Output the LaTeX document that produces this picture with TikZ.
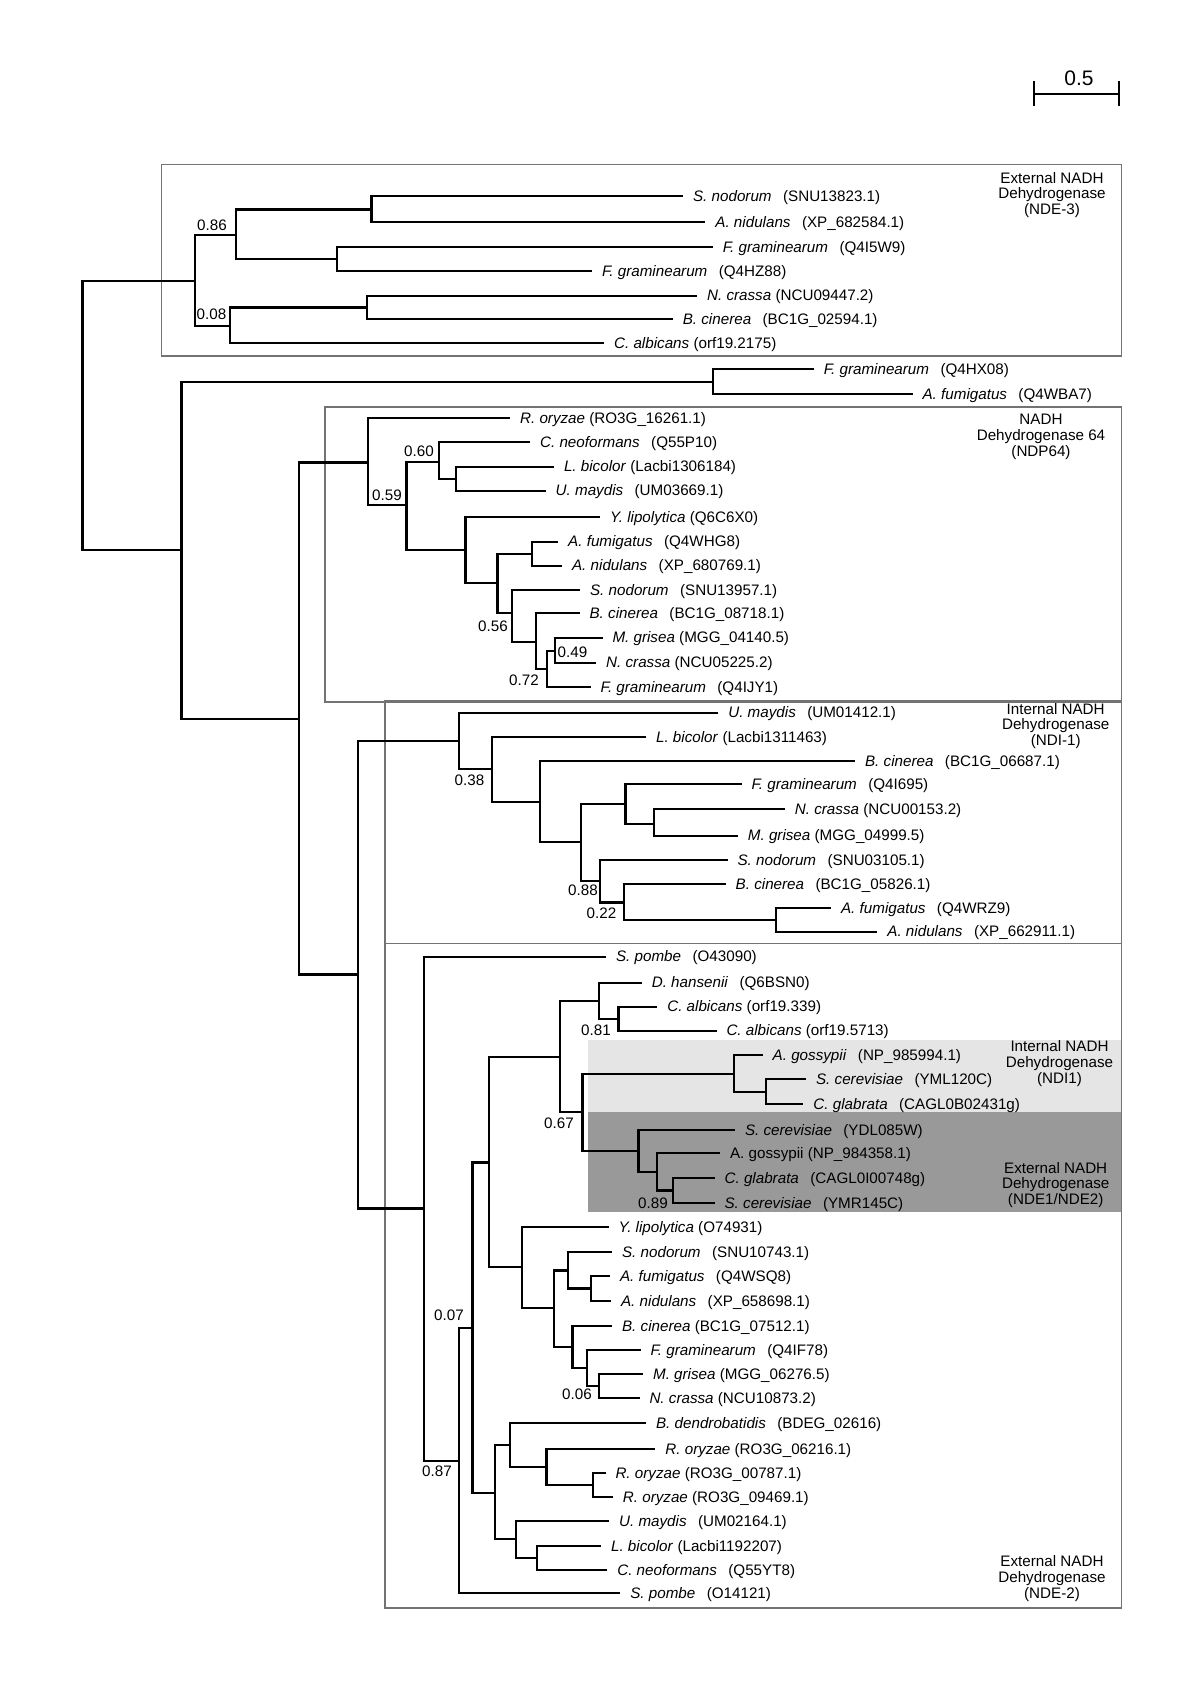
\documentclass[tikz,border=0pt]{standalone}
\usepackage{fontspec}
\setmainfont{Liberation Sans}
\newcommand\fsz{\fontsize{7.6}{7.9}\selectfont}
\newcommand\lbw[2]{\textit{#1}\hspace{0.75em}(#2)}
\newcommand\lbn[2]{\textit{#1}\ (#2)}
\newcommand\tin[4]{\coordinate (#2) at (#3,#4); \draw[br] (#1) |- (#2);}
\newcommand\tleaf[5]{\coordinate (#2) at (#3,#4); \draw[br] (#1) |- (#2) node[lab] (#2t) {#5};}
\begin{document}
\begin{tikzpicture}[x=0.5pt,y=-0.5pt,
  br/.style={line width=1.1pt, black, line cap=rect},
  lab/.style={anchor=mid west, inner xsep=5pt, inner ysep=0pt, font=\fsz},
  bs/.style={font=\fsz, inner sep=0pt},
  grp/.style={draw=black!55, line width=0.8pt},
  ttl/.style={align=center, font=\fsz, inner sep=0pt}]
\useasboundingbox (0,0) rectangle (1200,1698);
% shading
\fill[black!10] (587.6,1040) rectangle (1120.5,1112.3);
\fill[black!40] (587.6,1112.3) rectangle (1120.5,1211.7);
% group boxes
\draw[grp] (161.4,164.3) rectangle (1121.6,355.7);
\draw[grp] (325,406.7) rectangle (1121.6,701.7);
\draw[grp] (385,701) rectangle (1121.6,943.3);
\draw[grp] (385,943.3) rectangle (1121.6,1607.7);
% titles
\node[ttl] (t1) at (1052,195) {External NADH\\Dehydrogenase\\(NDE-3)};
\node[ttl] (t2) at (1041,436.7) {NADH\\Dehydrogenase 64\\(NDP64)};
\node[ttl] (t3) at (1055.7,726) {Internal NADH\\Dehydrogenase\\(NDI-1)};
\node[ttl] (t4) at (1059.5,1063.3) {Internal NADH\\Dehydrogenase\\(NDI1)};
\node[ttl] (t5) at (1055.7,1185) {External NADH\\Dehydrogenase\\(NDE1/NDE2)};
\node[ttl] (t6) at (1052,1578.3) {External NADH\\Dehydrogenase\\(NDE-2)};
% scale bar
\coordinate (sb1) at (1034,94);
\coordinate (sb2) at (1119,94);
\draw[br] (sb1) -- (sb2);
\draw[br] ([yshift=6pt]sb1) -- ([yshift=-5.5pt]sb1);
\draw[br] ([yshift=6pt]sb2) -- ([yshift=-5.5pt]sb2);
\node[font=\fontsize{10.5}{12}\selectfont, inner sep=0pt] (sbl) at (1079,78) {0.5};
% tree
\coordinate (R0) at (82.5,415.5);
\tin{R0}{n3}{195}{281}
\tin{n3}{n086}{235.7}{235}
\tin{n086}{n1}{371.4}{209.5}
\tleaf{n1}{l1}{682}{196.3}{\lbw{S. nodorum}{SNU13823.1}}
\tleaf{n1}{l2}{704.3}{222.3}{\lbw{A. nidulans}{XP\_682584.1}}
\tin{n086}{n2}{336.8}{259}
\tleaf{n2}{l3}{711.7}{247}{\lbw{F. graminearum}{Q4I5W9}}
\tleaf{n2}{l4}{591}{271}{\lbw{F. graminearum}{Q4HZ88}}
\tin{n3}{n008}{230}{326}
\tin{n008}{n4}{367}{307.5}
\tleaf{n4}{l5}{696}{295.7}{\lbn{N. crassa}{NCU09447.2}}
\tleaf{n4}{l6}{671.7}{319.3}{\lbw{B. cinerea}{BC1G\_02594.1}}
\tleaf{n008}{l7}{603}{343}{\lbn{C. albicans}{orf19.2175}}
\tin{R0}{nA}{181.4}{550}
\tin{nA}{nHX}{712.8}{381.8}
\tleaf{nHX}{l8}{812.7}{369.3}{\lbw{F. graminearum}{Q4HX08}}
\tleaf{nHX}{l9}{911.5}{394.3}{\lbw{A. fumigatus}{Q4WBA7}}
\tin{nA}{nB}{298.6}{719}
\tin{nB}{nC}{367.9}{462.5}
\tleaf{nC}{l10}{509}{418.3}{\lbn{R. oryzae}{RO3G\_16261.1}}
\tin{nC}{n059}{406.4}{505}
\tin{n059}{n060}{439.3}{461.7}
\tleaf{n060}{l11}{529}{442.3}{\lbw{C. neoformans}{Q55P10}}
\tin{n060}{nF}{455.7}{479}
\tleaf{nF}{l12}{552.9}{466.7}{\lbn{L. bicolor}{Lacbi1306184}}
\tleaf{nF}{l13}{544.6}{490.7}{\lbw{U. maydis}{UM03669.1}}
\tin{n059}{nE}{465.4}{550}
\tleaf{nE}{l14}{599}{517.3}{\lbn{Y. lipolytica}{Q6C6X0}}
\tin{nE}{nG}{497.5}{583.3}
\tin{nG}{nH}{532.1}{554}
\tleaf{nH}{l15}{557.1}{541.7}{\lbw{A. fumigatus}{Q4WHG8}}
\tleaf{nH}{l16}{561}{565.7}{\lbw{A. nidulans}{XP\_680769.1}}
\tin{nG}{n056}{511.8}{613.3}
\tleaf{n056}{l17}{579}{590}{\lbw{S. nodorum}{SNU13957.1}}
\tin{n056}{n072}{536}{641.7}
\tleaf{n072}{l18}{578.5}{613.3}{\lbw{B. cinerea}{BC1G\_08718.1}}
\tin{n072}{nI}{546.8}{669.3}
\tin{nI}{n049}{554.6}{650.7}
\tleaf{n049}{l19}{601.4}{637.7}{\lbn{M. grisea}{MGG\_04140.5}}
\tleaf{n049}{l20}{595.1}{662.7}{\lbn{N. crassa}{NCU05225.2}}
\tleaf{nI}{l21}{589.6}{687.3}{\lbw{F. graminearum}{Q4IJY1}}
% NDI-1
\tin{nB}{nD}{358.2}{974.5}
\tin{nD}{n038p}{459.3}{741}
\tleaf{n038p}{l22}{717.2}{712.7}{\lbw{U. maydis}{UM01412.1}}
\tin{n038p}{n038}{492.1}{769}
\tleaf{n038}{l23}{645}{737}{\lbn{L. bicolor}{Lacbi1311463}}
\tin{n038}{nJ}{539.6}{802}
\tleaf{nJ}{l24}{854}{761}{\lbw{B. cinerea}{BC1G\_06687.1}}
\tin{nJ}{n088}{581}{842}
\tin{n088}{nK}{625.5}{804}
\tleaf{nK}{l25}{740.5}{784.3}{\lbw{F. graminearum}{Q4I695}}
\tin{nK}{nM}{653.6}{824.3}
\tleaf{nM}{l26}{783.8}{809}{\lbn{N. crassa}{NCU00153.2}}
\tleaf{nM}{l27}{736.8}{835.7}{\lbn{M. grisea}{MGG\_04999.5}}
\tin{n088}{n022}{600}{881}
\tleaf{n022}{l28}{726.5}{860}{\lbw{S. nodorum}{SNU03105.1}}
\tin{n022}{nL}{623.6}{902.5}
\tleaf{nL}{l29}{724.6}{884}{\lbw{B. cinerea}{BC1G\_05826.1}}
\tin{nL}{nN}{775.7}{920}
\tleaf{nN}{l30}{830}{908.3}{\lbw{A. fumigatus}{Q4WRZ9}}
\tleaf{nN}{l31}{876.3}{931.7}{\lbw{A. nidulans}{XP\_662911.1}}
% NDE-2
\tin{nD}{nE2}{424.3}{1208.5}
\tleaf{nE2}{l32}{605}{956.7}{\lbw{S. pombe}{O43090}}
\tin{nE2}{n087}{459.3}{1461}
\tin{n087}{n007}{472.5}{1328.3}
\tin{n007}{nH2}{488.6}{1162.5}
\tin{nH2}{n067}{560}{1056.7}
\tin{n067}{n081}{598.6}{1001}
\tleaf{n081}{l33}{640.7}{982.7}{\lbw{D. hansenii}{Q6BSN0}}
\tin{n081}{nN2}{618.5}{1018.7}
\tleaf{nN2}{l34}{656.2}{1006.7}{\lbn{C. albicans}{orf19.339}}
\tleaf{nN2}{l35}{715.4}{1030.7}{\lbn{C. albicans}{orf19.5713}}
\tin{n067}{nM2}{582.5}{1112.3}
\tin{nM2}{nO}{733.9}{1074}
\tleaf{nO}{l36}{761.6}{1055}{\lbw{A. gossypii}{NP\_985994.1}}
\tin{nO}{nQ}{766}{1091.7}
\tleaf{nQ}{l37}{805}{1079.3}{\lbw{S. cerevisiae}{YML120C}}
\tleaf{nQ}{l38}{802.3}{1104}{\lbw{C. glabrata}{CAGL0B02431g}}
\tin{nM2}{nP}{638.4}{1151.3}
\tleaf{nP}{l39}{733.9}{1130}{\lbw{S. cerevisiae}{YDL085W}}
\tin{nP}{nR}{657.3}{1172}
\tleaf{nR}{l40}{719}{1153.3}{A. gossypii (NP\_984358.1)}
\tin{nR}{n089}{672.8}{1190.5}
\tleaf{n089}{l41}{713.5}{1178.3}{\lbw{C. glabrata}{CAGL0I00748g}}
\tleaf{n089}{l42}{713.5}{1202.7}{\lbw{S. cerevisiae}{YMR145C}}
\tin{nH2}{nK2}{521.8}{1267.3}
\tleaf{nK2}{l43}{607.4}{1226.7}{\lbn{Y. lipolytica}{O74931}}
\tin{nK2}{nT}{553.9}{1307.8}
\tin{nT}{nU}{567.9}{1270.5}
\tleaf{nU}{l44}{611}{1251.7}{\lbw{S. nodorum}{SNU10743.1}}
\tin{nU}{nV}{591}{1288.5}
\tleaf{nV}{l45}{609}{1276}{\lbw{A. fumigatus}{Q4WSQ8}}
\tleaf{nV}{l46}{610}{1301}{\lbw{A. nidulans}{XP\_658698.1}}
\tin{nT}{nW}{572.5}{1346.8}
\tleaf{nW}{l47}{611}{1326}{\lbn{B. cinerea}{BC1G\_07512.1}}
\tin{nW}{n006}{586.8}{1367.8}
\tleaf{n006}{l48}{639.5}{1350}{\lbw{F. graminearum}{Q4IF78}}
\tin{n006}{nY}{598.6}{1386}
\tleaf{nY}{l49}{642}{1374}{\lbn{M. grisea}{MGG\_06276.5}}
\tleaf{nY}{l50}{638.4}{1398.3}{\lbn{N. crassa}{NCU10873.2}}
\tin{n007}{nI2}{495}{1493}
\tin{nI2}{nZ}{510}{1445}
\tleaf{nZ}{l51}{645}{1422.7}{\lbw{B. dendrobatidis}{BDEG\_02616}}
\tin{nZ}{nAA}{546.4}{1467.3}
\tleaf{nAA}{l52}{654.3}{1449}{\lbn{R. oryzae}{RO3G\_06216.1}}
\tin{nAA}{nAB}{593.2}{1485.3}
\tleaf{nAB}{l53}{604.4}{1473.3}{\lbn{R. oryzae}{RO3G\_00787.1}}
\tleaf{nAB}{l54}{611.8}{1497.3}{\lbn{R. oryzae}{RO3G\_09469.1}}
\tin{nI2}{nAC}{516.1}{1539.3}
\tleaf{nAC}{l55}{608}{1521}{\lbw{U. maydis}{UM02164.1}}
\tin{nAC}{nAD}{536.8}{1557.8}
\tleaf{nAD}{l56}{600}{1545.7}{\lbn{L. bicolor}{Lacbi1192207}}
\tleaf{nAD}{l57}{606.2}{1570}{\lbw{C. neoformans}{Q55YT8}}
\tleaf{n087}{l58}{619.2}{1593.3}{\lbw{S. pombe}{O14121}}
% support values
\node[bs] (b086) at (212,225) {0.86};
\node[bs] (b008) at (211.5,314.7) {0.08};
\node[bs] (b059) at (387,495.7) {0.59};
\node[bs] (b060) at (419,451.7) {0.60};
\node[bs] (b056) at (493,626.7) {0.56};
\node[bs] (b072) at (524,680) {0.72};
\node[bs] (b049) at (572.5,652.3) {0.49};
\node[bs] (b038) at (469.5,780.7) {0.38};
\node[bs] (b088) at (583,890.7) {0.88};
\node[bs] (b022) at (601.5,913.3) {0.22};
\node[bs] (b081) at (596,1030.7) {0.81};
\node[bs] (b067) at (559,1123.3) {0.67};
\node[bs] (b089) at (653,1203.3) {0.89};
\node[bs] (b007) at (449,1315) {0.07};
\node[bs] (b006) at (577,1394.3) {0.06};
\node[bs] (b087) at (437,1471.7) {0.87};
\end{tikzpicture}
\end{document}
